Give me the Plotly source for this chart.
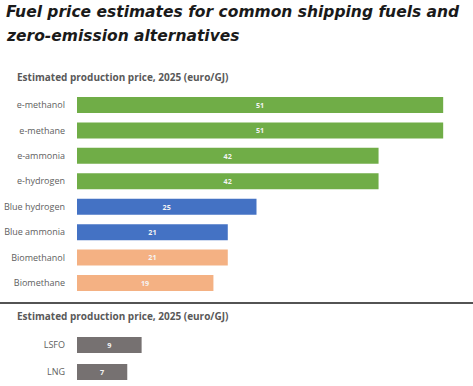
import plotly.graph_objects as go

title_lines = ["Fuel price estimates for common shipping fuels and", "zero-emission alternatives"]
subtitle = "Estimated production price, 2025 (euro/GJ)"

alt_fuels = ["e-methanol", "e-methane", "e-ammonia", "e-hydrogen",
             "Blue hydrogen", "Blue ammonia", "Biomethanol", "Biomethane"]
alt_prices = [51, 51, 42, 42, 25, 21, 21, 19]
alt_colors = ["#70AD47", "#70AD47", "#70AD47", "#70AD47",
              "#4472C4", "#4472C4", "#F4B183", "#F4B183"]

fossil_fuels = ["LSFO", "LNG"]
fossil_prices = [9, 7]
fossil_color = "#767171"

W, H = 473, 386
def py(px):
    return 1 - px / H
def pxx(px):
    return px / W

label_font = dict(color="#f4f4f4", size=10, family="Open Sans", weight="bold")

fig = go.Figure()
fig.add_trace(go.Bar(
    x=alt_prices, y=alt_fuels, orientation="h",
    marker=dict(color=alt_colors, line=dict(width=0)),
    text=[str(v) for v in alt_prices], textposition="inside",
    insidetextanchor="middle", textangle=0,
    textfont=label_font, width=0.63,
    xaxis="x", yaxis="y", hoverinfo="skip", showlegend=False,
))
fig.add_trace(go.Bar(
    x=fossil_prices, y=fossil_fuels, orientation="h",
    marker=dict(color=fossil_color, line=dict(width=0)),
    text=[str(v) for v in fossil_prices], textposition="inside",
    insidetextanchor="middle", textangle=0,
    textfont=label_font, width=0.6,
    xaxis="x2", yaxis="y2", hoverinfo="skip", showlegend=False,
))

x0 = 77
xrange = [0, (W - x0) / 7.18]
axis_common = dict(showgrid=False, zeroline=False, showticklabels=False,
                   showline=False, fixedrange=True)
yaxis_common = dict(autorange="reversed", showgrid=False, zeroline=False,
                    showline=False, ticks="", ticklabelstandoff=11,
                    tickfont=dict(size=9, color="#606060", family="Open Sans"),
                    fixedrange=True)
fig.update_layout(
    width=W, height=H,
    margin=dict(l=0, r=0, t=0, b=0),
    paper_bgcolor="white", plot_bgcolor="white",
    font=dict(family="Open Sans", color="#595959"),
    xaxis=dict(domain=[pxx(x0), 1], range=xrange, anchor="y", **axis_common),
    yaxis=dict(domain=[py(295.7), py(92.3)], categoryorder="array",
               categoryarray=alt_fuels, anchor="x", **yaxis_common),
    xaxis2=dict(domain=[pxx(x0), 1], range=xrange, anchor="y2", **axis_common),
    yaxis2=dict(domain=[py(385.5), py(331.5)], categoryorder="array",
                categoryarray=fossil_fuels, anchor="x2", **yaxis_common),
)

for line, ypx in zip(title_lines, [12, 36]):
    fig.add_annotation(
        text="<b><i>" + line + "</i></b>", xref="paper", yref="paper",
        x=pxx(4), y=py(ypx), xanchor="left", yanchor="middle", showarrow=False,
        font=dict(family="DejaVu Sans", size=15.5, color="#1a1a1a"),
    )

for ypx in [77, 316]:
    fig.add_annotation(
        text="<b>" + subtitle + "</b>", xref="paper", yref="paper",
        x=pxx(15), y=py(ypx), xanchor="left", yanchor="middle", showarrow=False,
        font=dict(family="Open Sans", size=10, color="#595959"),
    )

fig.add_shape(type="line", xref="paper", yref="paper",
              x0=0, x1=1, y0=py(303), y1=py(303),
              line=dict(color="#1a1a1a", width=1.5))

fig.write_html("out.html", config={"displayModeBar": False},
               post_script="document.body.style.margin='0';")
